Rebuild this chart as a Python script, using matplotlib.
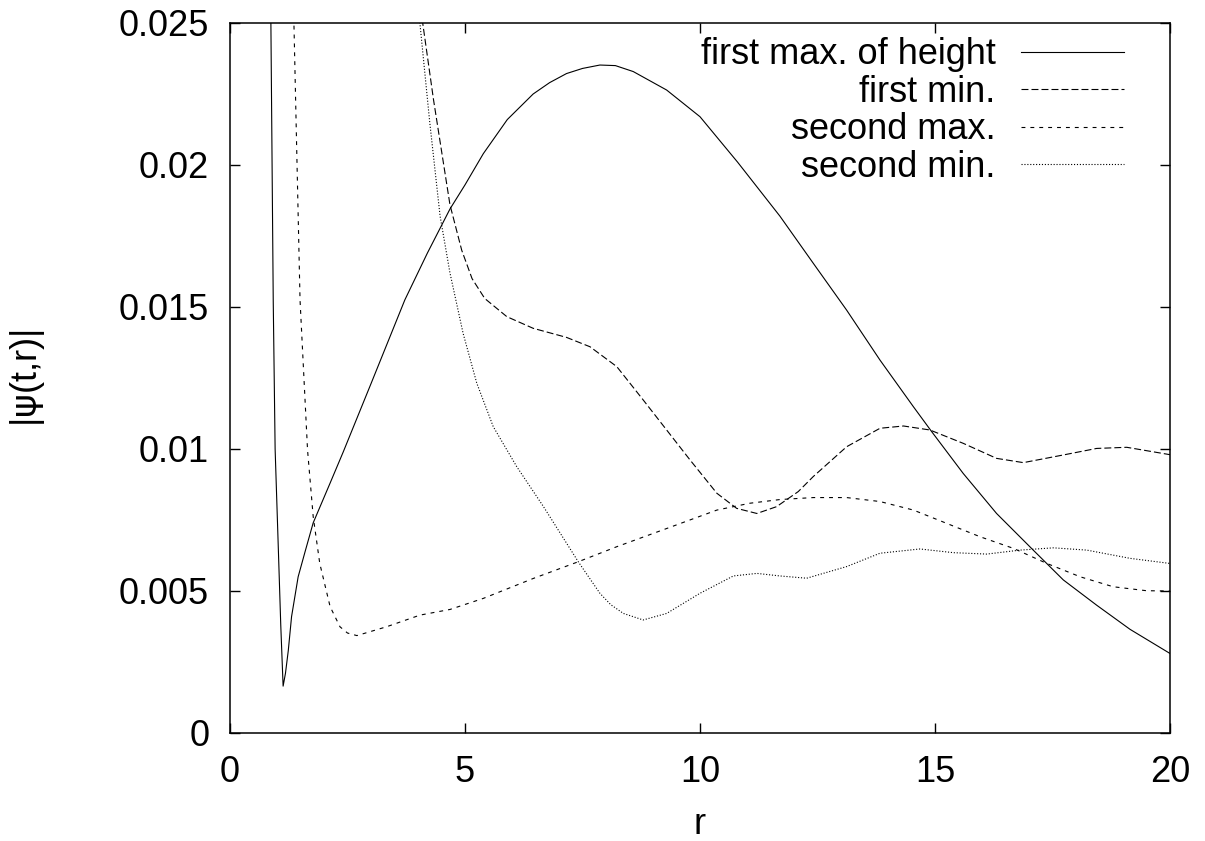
import matplotlib
matplotlib.use("Agg")
import matplotlib.pyplot as plt

plt.rcParams['font.family'] = ['Liberation Sans', 'DejaVu Sans']
plt.rcParams['lines.scale_dashes'] = False
plt.rcParams['mathtext.fontset'] = 'custom'
plt.rcParams['mathtext.rm'] = 'DejaVu Sans'

# first max. of height (solid)
r_max1 = [0.84, 0.87, 0.92, 0.96, 1.03, 1.08, 1.13, 1.18, 1.24, 1.31, 1.45, 1.60, 1.77,
          2.13, 2.41, 3.0, 3.72, 4.2, 4.68, 5.0, 5.39, 5.9, 6.45, 6.8, 7.16, 7.5, 7.87,
          8.2, 8.58, 9.29, 10.0, 10.8, 11.7, 12.41, 13.12, 13.83, 14.54, 14.93, 15.6,
          16.31, 17.09, 17.73, 18.44, 19.15, 20.0]
y_max1 = [0.031, 0.025, 0.0152, 0.0100, 0.0064, 0.0038, 0.00165, 0.0021, 0.0029, 0.0041,
          0.0055, 0.0064, 0.0074, 0.0088, 0.0099, 0.0123, 0.01525, 0.0169, 0.01845, 0.0193,
          0.0204, 0.0216, 0.0225, 0.0229, 0.02322, 0.0234, 0.02352, 0.0235, 0.02329,
          0.02264, 0.0217, 0.0201, 0.0182, 0.01654, 0.01489, 0.01313, 0.01149, 0.01061,
          0.00914, 0.00773, 0.00644, 0.00539, 0.0045, 0.00365, 0.0028]

# first min.
r_min1 = [3.95, 4.10, 4.33, 4.68, 4.93, 5.15, 5.42, 5.89, 6.45, 7.16, 7.66, 8.23, 8.79,
          9.29, 9.79, 10.36, 10.78, 11.21, 11.63, 12.09, 12.41, 13.12, 13.83, 14.33, 14.89,
          15.6, 16.31, 16.88, 17.73, 18.44, 19.08, 20.0]
y_min1 = [0.029, 0.025, 0.0223, 0.0186, 0.0170, 0.0160, 0.0153, 0.01466, 0.01425, 0.01393,
          0.0136, 0.0129, 0.01173, 0.01067, 0.00961, 0.00844, 0.00791, 0.00773, 0.00797,
          0.0085, 0.00903, 0.01008, 0.01073, 0.01081, 0.01067, 0.0102, 0.00967, 0.00952,
          0.00979, 0.01002, 0.01006, 0.0098]

# second max.
r_max2 = [1.30, 1.36, 1.49, 1.65, 1.77, 1.91, 2.13, 2.34, 2.5, 2.70, 3.33, 4.04, 4.68, 5.39,
          6.45, 7.41, 8.23, 9.29, 10.36, 11.06, 11.7, 12.41, 13.12, 13.83, 14.54, 15.25,
          15.96, 16.67, 17.38, 18.09, 18.79, 19.5, 20.0]
y_max2 = [0.029, 0.025, 0.01525, 0.00996, 0.00762, 0.00597, 0.00445, 0.00374, 0.00352,
          0.00343, 0.00374, 0.00415, 0.00435, 0.00474, 0.00544, 0.00603, 0.00656, 0.0072,
          0.00785, 0.00809, 0.00822, 0.00829, 0.00829, 0.00815, 0.00785, 0.00738, 0.00691,
          0.0065, 0.00597, 0.0055, 0.00515, 0.00501, 0.00500]

# second min.
r_min2 = [3.98, 4.04, 4.25, 4.47, 4.68, 4.96, 5.25, 5.60, 6.10, 6.67, 7.41, 7.87, 8.1,
          8.37, 8.79, 9.29, 10.0, 10.71, 11.21, 11.7, 12.27, 13.12, 13.83, 14.68, 15.39,
          16.1, 16.81, 17.52, 18.23, 19.15, 20.0]
y_min2 = [0.028, 0.025, 0.0215, 0.0182, 0.0162, 0.01407, 0.01232, 0.01079, 0.00938,
          0.00797, 0.00603, 0.00492, 0.00452, 0.00421, 0.00398, 0.00421, 0.00492, 0.00553,
          0.00562, 0.00553, 0.00545, 0.00586, 0.00633, 0.00648, 0.00635, 0.0063, 0.00644,
          0.00652, 0.00644, 0.00615, 0.00597]

labels = ["first max. of height", "first min.", "second max.", "second min."]
xticks = [0, 5, 10, 15, 20]
yticks = [0, 0.005, 0.01, 0.015, 0.02, 0.025]
ytick_labels = ["0", "0.005", "0.01", "0.015", "0.02", "0.025"]

fig = plt.figure(figsize=(12.05, 8.41), dpi=100)
ax = fig.add_axes([230 / 1205, 108 / 841, 940 / 1205, 710 / 841])

lw = 0.8
ax.plot(r_max1, y_max1, color='black', lw=lw, linestyle='-', label=labels[0])
ax.plot(r_min1, y_min1, color='black', lw=lw, linestyle=(0, (5, 2.2)), label=labels[1])
ax.plot(r_max2, y_max2, color='black', lw=lw, linestyle=(0, (2.8, 3.6)), label=labels[2])
ax.plot(r_min2, y_min2, color='black', lw=lw, linestyle=(0, (0.8, 1.3)), label=labels[3])

ax.set_xlim(0, 20)
ax.set_ylim(0, 0.025)
ax.set_xticks(xticks)
ax.set_xticklabels([str(v) for v in xticks])
ax.set_yticks(yticks)
ax.set_yticklabels(ytick_labels)

fs = 26
ax.tick_params(direction='in', top=True, right=True, length=7, width=1, labelsize=fs)
ax.tick_params(axis='x', pad=16)
ax.tick_params(axis='y', pad=15)
for s in ax.spines.values():
    s.set_linewidth(1.1)

ax.set_xlabel("r", fontsize=fs, labelpad=12)
ax.set_ylabel(r"|$\mathrm{\psi}$(t,r)|", fontsize=fs, labelpad=52)

leg = ax.legend(loc='upper right', bbox_to_anchor=(0.951, 0.98), frameon=False,
                markerfirst=False, fontsize=fs, handlelength=2.85, handletextpad=0.7,
                labelspacing=0.07, borderpad=0, borderaxespad=0)

fig.savefig("out.png", dpi=100)
